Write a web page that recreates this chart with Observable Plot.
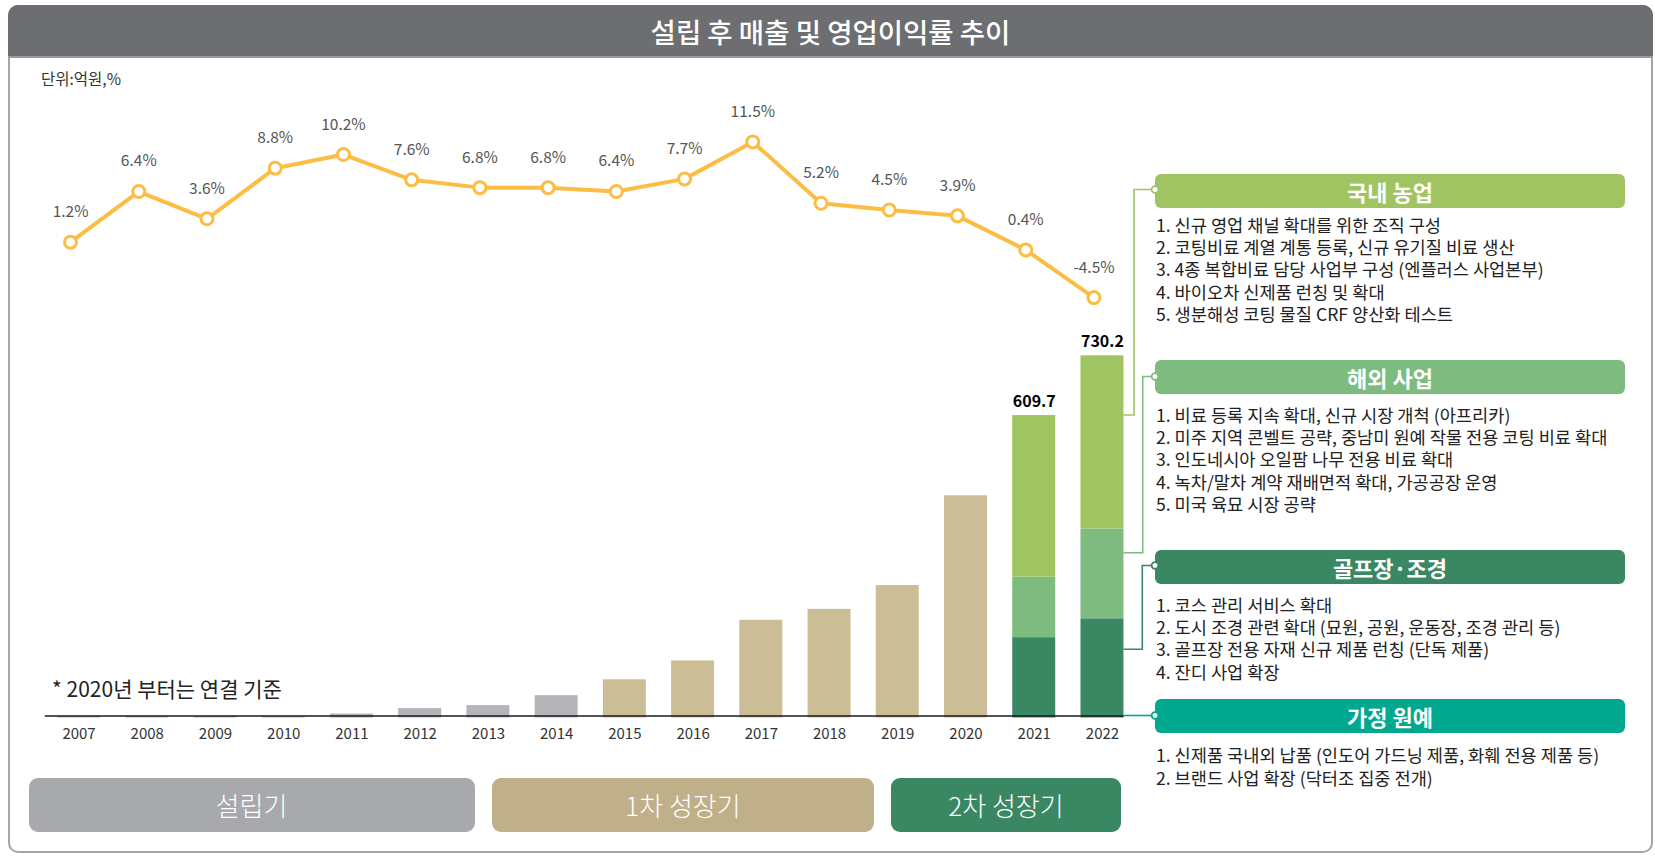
<!DOCTYPE html>
<html><head><meta charset="utf-8">
<script src="https://cdn.jsdelivr.net/npm/d3@7"></script>
<script src="https://cdn.jsdelivr.net/npm/@observablehq/plot@0.6"></script>
<style>
body{margin:0;background:#fff;font-family:"Noto Sans CJK KR","Noto Sans",sans-serif;}
#page{position:relative;width:1655px;height:856px;overflow:hidden;background:#fff;}
.abs{position:absolute;}
#frame{left:8px;top:5px;width:1645px;height:848px;border:2px solid #a5a5a5;border-radius:10px;box-sizing:border-box;}
#titlebar{left:8px;top:5px;width:1645px;height:53px;background:#6d6e71;border-radius:10px 10px 0 0;color:#fff;font-size:27.5px;font-weight:500;text-align:center;line-height:53px;border-bottom:2px solid #9a9b9e;box-sizing:border-box;}
#unit{left:41px;top:66px;font-size:15.5px;color:#333;line-height:24px;}
#note{left:52px;top:674px;font-size:21px;color:#222;line-height:28px;}
.phase{position:absolute;top:778px;height:54px;border-radius:9px;color:#fff;font-size:26px;text-align:center;line-height:54px;font-weight:300;}
.hdr{position:absolute;left:1155px;width:470px;height:34px;border-radius:6px;color:#fff;font-size:22px;font-weight:700;text-align:center;line-height:34px;}
.items{position:absolute;left:1156px;font-size:17.6px;color:#222;line-height:22.3px;white-space:nowrap;}
svg{position:absolute;left:0;top:0;}
</style></head>
<body><div id="page">
<div id="frame" class="abs"></div>
<div id="titlebar" class="abs"></div>
<div id="unit" class="abs"></div>
<div id="note" class="abs"></div>
</div>
<script>
// ---------- data ----------
const chartTitle = "설립 후 매출 및 영업이익률 추이";
const unitLabel = "단위:억원,%";
const noteLabel = "* 2020년 부터는 연결 기준";
const years = [2007,2008,2009,2010,2011,2012,2013,2014,2015,2016,2017,2018,2019,2020,2021,2022];
const revenue = [3,3,3,3,8,19,25,45,77,115,197,219,267,448,609.7,730.2];
const opMargin = [1.2,6.4,3.6,8.8,10.2,7.6,6.8,6.8,6.4,7.7,11.5,5.2,4.5,3.9,0.4,-4.5];
const phaseNames = ["설립기","1차 성장기","2차 성장기"];
const phaseStart = [2007,2015,2021];
const segmentNames = ["골프장·조경","해외 사업","국내 농업"];
const segment2021 = [162,122,325.7];
const segment2022 = [200,181,349.2];
const labeledYears = [2021,2022];
const panelTitles = ["국내 농업","해외 사업","골프장·조경","가정 원예"];
const panelItems = [
  ["1. 신규 영업 채널 확대를 위한 조직 구성","2. 코팅비료 계열 계통 등록, 신규 유기질 비료 생산","3. 4종 복합비료 담당 사업부 구성 (엔플러스 사업본부)","4. 바이오차 신제품 런칭 및 확대","5. 생분해성 코팅 물질 CRF 양산화 테스트"],
  ["1. 비료 등록 지속 확대, 신규 시장 개척 (아프리카)","2. 미주 지역 콘벨트 공략, 중남미 원예 작물 전용 코팅 비료 확대","3. 인도네시아 오일팜 나무 전용 비료 확대","4. 녹차/말차 계약 재배면적 확대, 가공공장 운영","5. 미국 육묘 시장 공략"],
  ["1. 코스 관리 서비스 확대","2. 도시 조경 관련 확대 (묘원, 공원, 운동장, 조경 관리 등)","3. 골프장 전용 자재 신규 제품 런칭 (단독 제품)","4. 잔디 사업 확장"],
  ["1. 신제품 국내외 납품 (인도어 가드닝 제품, 화훼 전용 제품 등)","2. 브랜드 사업 확장 (닥터조 집중 전개)"]
];

// ---------- styles ----------
const FONT = '"Noto Sans CJK KR","Noto Sans",sans-serif';
const barColors = {"설립기":"#b3b5b8","1차 성장기":"#cbbd96","골프장·조경":"#3a8863","해외 사업":"#7dbb7e","국내 농업":"#a0c462"};
const phaseColors = ["#a7a9ac","#bfb089","#3a8863"];
const panelColors = ["#a0c462","#7dbb7e","#3a8863","#00a88f"];
const lineColor = "#fcbd45";

const page = document.getElementById("page");
document.getElementById("titlebar").textContent = chartTitle;
document.getElementById("unit").textContent = unitLabel;
document.getElementById("note").textContent = noteLabel;

// ---------- build rows ----------
const phaseOf = yr => { let p = 0; phaseStart.forEach((s,i)=>{ if (yr >= s) p = i; }); return p; };
const barRows = [];
years.forEach((yr,i) => {
  if (phaseOf(yr) < 2) barRows.push({year: yr, group: phaseNames[phaseOf(yr)], value: revenue[i]});
});
[[2021, segment2021],[2022, segment2022]].forEach(([yr, seg]) => {
  segmentNames.forEach((s,j) => barRows.push({year: yr, group: s, value: seg[j]}));
});
const totalRows = years.map((yr,i)=>({year: yr, value: revenue[i]})).filter(d => labeledYears.includes(d.year));
const marginRows = years.map((yr,i)=>({year: yr, m: opMargin[i]}));

const xOpts = {type:"band", domain: years, padding: 0.37, round: false};
const common = {width:1655, height:856, marginLeft:31.8, marginRight:506.3,
  style:{background:"transparent", fontFamily: FONT, overflow:"visible", maxWidth:"none"}};

const bars = Plot.plot({
  ...common,
  marginTop: 355.3, marginBottom: 138.5,
  style:{...common.style, fontSize:"15px", color:"#333"},
  x: {...xOpts, axis:"bottom", tickSize:0, tickPadding:10, label:null, tickFormat: d => String(d)},
  y: {domain:[0, 730.2], axis:null},
  color: {domain: Object.keys(barColors), range: Object.values(barColors)},
  marks: [
    Plot.barY(barRows, {x:"year", y:"value", fill:"group"}),
    Plot.ruleY([0], {stroke:"#1a1a1a", strokeWidth:1.5, dy:-2, insetLeft:13, insetRight:25}),
    Plot.text(totalRows, {x:"year", y:"value", text: d => d.value.toFixed(1), dy:-14, fontWeight:"bold", fontSize:16, fill:"#000", letterSpacing:"-0.5px"})
  ]
});
page.appendChild(bars);

const lineShift = -8.5;
const line = Plot.plot({
  ...common,
  marginTop: 141.4, marginBottom: 558.9,
  x: {...xOpts, axis:null},
  y: {domain:[-4.5, 11.5], axis:null},
  marks: [
    Plot.line(marginRows, {x:"year", y:"m", stroke: lineColor, strokeWidth:4, dx: lineShift}),
    Plot.dot(marginRows, {x:"year", y:"m", r:6, fill:"#fff", stroke: lineColor, strokeWidth:3, dx: lineShift}),
    Plot.text(marginRows, {x:"year", y:"m", text: d => d.m + "%", dy:-30, dx: lineShift, fill:"#555", fontSize:15.5})
  ]
});
page.appendChild(line);

// ---------- phase boxes ----------
const phaseBoxes = [[28.5,474.5],[492,874],[891,1121]];
phaseNames.forEach((p,i) => {
  const d = document.createElement("div");
  d.className = "phase";
  d.style.left = phaseBoxes[i][0] + "px";
  d.style.width = (phaseBoxes[i][1]-phaseBoxes[i][0]) + "px";
  d.style.background = phaseColors[i];
  d.textContent = p;
  page.appendChild(d);
});

// ---------- right panels ----------
const hdrTops = [173.5, 360, 549.5, 698.5];
const itemFirst = [225, 415, 605, 755.5];
panelTitles.forEach((t,i) => {
  const h = document.createElement("div");
  h.className = "hdr";
  h.style.top = hdrTops[i] + "px";
  h.style.background = panelColors[i];
  h.textContent = t;
  page.appendChild(h);
  const it = document.createElement("div");
  it.className = "items";
  it.style.top = (itemFirst[i] - 11.15) + "px";
  it.innerHTML = panelItems[i].join("<br>");
  page.appendChild(it);
});

// ---------- connectors ----------
const sx = bars.scale("x");
const barRight = sx.apply(2022) + sx.bandwidth;
const conn = [
  {y0:415, vx:1134, y1:189.5},
  {y0:552.7, vx:1142.7, y1:376.5},
  {y0:649.3, vx:1142.3, y1:565.5},
  {y0:715.5, vx:null, y1:715.5}
];
const svg = d3.select(page).append("svg").attr("width",1655).attr("height",856);
conn.forEach((c,i) => {
  const path = c.vx == null ? `M${barRight},${c.y0}H1155` : `M${barRight},${c.y0}H${c.vx}V${c.y1}H1155`;
  svg.append("path").attr("d", path).attr("fill","none").attr("stroke", panelColors[i]).attr("stroke-width",1.6);
  svg.append("circle").attr("cx",1155).attr("cy",c.y1).attr("r",3.4).attr("fill","#fff").attr("stroke",panelColors[i]).attr("stroke-width",1.8);
});
</script>
</body></html>
